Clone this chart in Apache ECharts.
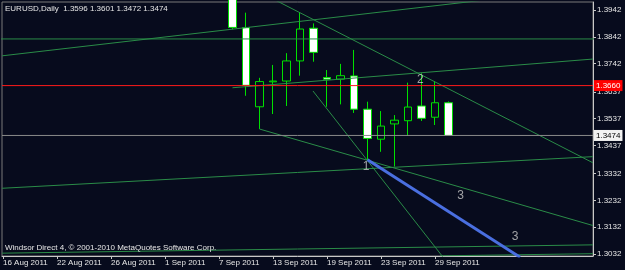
<!DOCTYPE html>
<html>
<head>
<meta charset="utf-8">
<title>EURUSD Daily</title>
<script src="https://cdn.jsdelivr.net/npm/echarts@6/dist/echarts.min.js"></script>
<style>
  html, body { margin: 0; padding: 0; background: #070b1d; }
  #main { width: 625px; height: 270px; }
</style>
</head>
<body>
<div id="main"></div>
<script>
// trading days shown on the time axis (bar index = position in this list)
var dates = ['16 Aug 2011', '17 Aug 2011', '18 Aug 2011', '19 Aug 2011',
  '22 Aug 2011', '23 Aug 2011', '24 Aug 2011', '25 Aug 2011', '26 Aug 2011',
  '29 Aug 2011', '30 Aug 2011', '31 Aug 2011', '1 Sep 2011', '2 Sep 2011',
  '5 Sep 2011', '6 Sep 2011', '7 Sep 2011', '8 Sep 2011', '9 Sep 2011',
  '12 Sep 2011', '13 Sep 2011', '14 Sep 2011', '15 Sep 2011', '16 Sep 2011',
  '19 Sep 2011', '20 Sep 2011', '21 Sep 2011', '22 Sep 2011', '23 Sep 2011',
  '26 Sep 2011', '27 Sep 2011', '28 Sep 2011', '29 Sep 2011', '30 Sep 2011'];
var dateTicks = [0, 4, 8, 12, 16, 20, 24, 28, 32];
var priceTicks = [1.3032, 1.3132, 1.3232, 1.3332, 1.3437, 1.3537, 1.3637, 1.3742, 1.3842, 1.3942];

// candles visible in the window start at 8 Sep (index 17)
var firstBar = 17;
var opens  = [1.4050, 1.3876, 1.3581, 1.3674, 1.3677, 1.3752, 1.3874, 1.3690, 1.3684, 1.3696, 1.3572, 1.3460, 1.3517, 1.3529, 1.3584, 1.3542, 1.3596];
var closes = [1.3877, 1.3661, 1.3675, 1.3677, 1.3752, 1.3871, 1.3784, 1.3684, 1.3697, 1.3572, 1.3463, 1.3509, 1.3531, 1.3580, 1.3538, 1.3596, 1.3474];
var lows   = [1.3870, 1.3622, 1.3498, 1.3554, 1.3584, 1.3697, 1.3749, 1.3581, 1.3590, 1.3558, 1.3383, 1.3413, 1.3358, 1.3472, 1.3528, 1.3513, 1.3472];
var highs  = [1.4075, 1.3932, 1.3689, 1.3737, 1.3781, 1.3933, 1.3892, 1.3718, 1.3741, 1.3793, 1.3600, 1.3565, 1.3550, 1.3671, 1.3706, 1.3677, 1.3601];

// trend lines: [barIndex, price] end points
var greenLines = [
  [[-1, 1.3834], [45, 1.3834]],
  [[-0.07, 1.3771], [43.7, 1.4026]],
  [[17, 1.3652], [43.7, 1.3759]],
  [[19.78, 1.3989], [43.7, 1.3372]],
  [[19, 1.3498], [43.7, 1.3138]],
  [[-0.07, 1.3277], [43.7, 1.3395]],
  [[22.96, 1.3640], [33.11, 1.2987]],
  [[-0.07, 1.3035], [43.7, 1.3066]],
  [[32.4, 1.3025], [43.7, 1.3033]]
];
var blueLine = [[27, 1.3383], [38.3, 1.3020]];
var waveLabels = [[26.89, 1.3357, '1'], [30.91, 1.3683, '2'], [33.90, 1.3248, '3'], [37.93, 1.3096, '3']];
var redLevel = 1.3660;
var bidLevel = 1.3474;

var xMin = -0.0741, xMax = 43.7037;

var candles = [];
for (var i = 0; i < opens.length; i++) {
  candles.push([firstBar + i, opens[i], closes[i], lows[i], highs[i]]);
}

var font = 'Liberation Sans';
var series = [{
  type: 'candlestick',
  data: candles,
  encode: { x: 0, y: [1, 2, 3, 4] },
  barWidth: 8,
  itemStyle: {
    color: '#070b1d', color0: '#ffffff',
    borderColor: '#00e000', borderColor0: '#00e000', borderWidth: 1
  }
}];

// horizontal price levels with their boxes on the price scale
function levelLine(value, lineColor, boxColor, textColor) {
  return {
    type: 'line', data: [[xMin, value], [xMax, value]], symbol: 'none', silent: true, z: 3,
    lineStyle: { color: lineColor, width: 1 },
    endLabel: { show: true, formatter: value.toFixed(4), distance: 1,
      backgroundColor: boxColor, color: textColor, padding: [2, 2, 1, 2],
      fontFamily: font, fontSize: 8 }
  };
}

greenLines.forEach(function (seg) {
  series.push({
    type: 'line', data: seg, symbol: 'none', silent: true, z: 3,
    lineStyle: { color: '#2a8c48', width: 1 }
  });
});
series.push({
  type: 'line', data: blueLine, symbol: 'none', silent: true, z: 4,
  lineStyle: { color: '#4a6fe0', width: 3 }
});
series.push(levelLine(bidLevel, '#8a8a8a', '#f2f2f2', '#000000'));
series.push(levelLine(redLevel, '#ff1a1a', '#ff0000', '#ffffff'));
series.push({
  type: 'scatter', data: waveLabels, symbolSize: 0, silent: true, z: 5,
  label: { show: true, position: 'inside', formatter: function (p) { return p.data[2]; },
    color: '#c8c8c8', fontFamily: font, fontSize: 12 }
});

var chart = echarts.init(document.getElementById('main'));
chart.setOption({
  animation: false,
  backgroundColor: '#070b1d',
  title: [
    { text: 'EURUSD,Daily  1.3596 1.3601 1.3472 1.3474', left: 5, top: 5, padding: 0,
      textStyle: { color: '#e6e6e6', fontFamily: font, fontSize: 8, fontWeight: 'normal' } },
    { text: 'Windsor Direct 4, © 2001-2010 MetaQuotes Software Corp.', left: 5, top: 244, padding: 0,
      textStyle: { color: '#e6e6e6', fontFamily: font, fontSize: 8, fontWeight: 'normal' } }
  ],
  grid: { left: 2, right: 32, top: 2, bottom: 14, show: true, borderColor: '#7a7a7a', borderWidth: 1 },
  xAxis: {
    type: 'value', min: xMin, max: xMax,
    splitLine: { show: false },
    axisLine: { show: true, onZero: false, lineStyle: { color: '#c8c8c8' } },
    axisTick: { show: true, length: 3, customValues: dateTicks, lineStyle: { color: '#c8c8c8' } },
    axisLabel: { customValues: dateTicks, formatter: function (v) { return dates[v]; },
      align: 'left', margin: 3, color: '#e6e6e6', fontFamily: font, fontSize: 8 }
  },
  yAxis: {
    type: 'value', position: 'right', min: 1.30244, max: 1.39718, scale: true,
    splitLine: { show: false },
    axisLine: { show: true, onZero: false, lineStyle: { color: '#c8c8c8' } },
    axisTick: { show: true, length: 3, customValues: priceTicks, lineStyle: { color: '#c8c8c8' } },
    axisLabel: { customValues: priceTicks, formatter: function (v) { return v.toFixed(4); },
      margin: 4, color: '#e6e6e6', fontFamily: font, fontSize: 8 }
  },
  series: series
});
</script>
</body>
</html>
